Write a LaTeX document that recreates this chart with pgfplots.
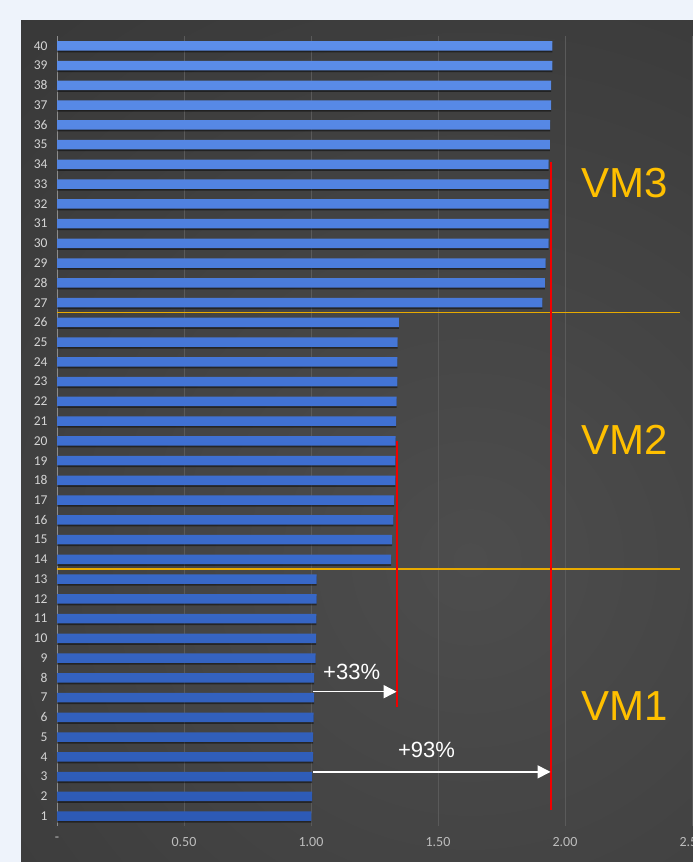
\documentclass[border=0pt]{standalone}
\usepackage{pgfplots}
\pgfplotsset{compat=1.18}
\usepackage{pgfplotstable}
\usepackage{fontspec}
\setmainfont{Carlito}
\newfontfamily\arialfont{Liberation Sans}
\usetikzlibrary{arrows.meta}
\definecolor{pagebg}{HTML}{EEF3FB}
\definecolor{barblue}{HTML}{3F70D2}
\definecolor{bartop}{HTML}{5C8EEA}
\definecolor{barbot}{HTML}{2D5AB5}
\definecolor{vmgold}{HTML}{FFC000}
\definecolor{lineorange}{HTML}{E8AA00}
\definecolor{redline}{HTML}{F00000}
\definecolor{gridgray}{HTML}{5A5A5A}
\definecolor{ticklab}{HTML}{D4D4D4}
\definecolor{xticklab}{HTML}{BDBDBD}
\definecolor{bginner}{HTML}{4D4D4D}
\definecolor{bgouter}{HTML}{1E1E1E}

\pgfplotstableread{
cat val
1 1.001
2 1.004
3 1.004
4 1.008
5 1.008
6 1.010
7 1.012
8 1.012
9 1.018
10 1.020
11 1.021
12 1.022
13 1.022
14 1.315
15 1.319
16 1.324
17 1.327
18 1.332
19 1.332
20 1.333
21 1.335
22 1.337
23 1.340
24 1.340
25 1.341
26 1.346
27 1.911
28 1.921
29 1.924
30 1.936
31 1.936
32 1.936
33 1.936
34 1.936
35 1.940
36 1.941
37 1.945
38 1.945
39 1.950
40 1.950
}\datatable

\begin{document}
\begin{tikzpicture}
\path[use as bounding box] (0,0) rectangle (693bp,862bp);
\clip (0,0) rectangle (693bp,862bp);
\fill[pagebg] (0,0) rectangle (693bp,862bp);
\begin{scope}
\clip (21bp,0) rectangle (693bp,841bp);
\shade[inner color=bginner, outer color=bgouter] (470bp,302bp) circle (1600bp);
\end{scope}
\begin{axis}[
  at={(57bp,36bp)}, anchor=south west,
  scale only axis,
  width=635bp, height=790bp,
  xmin=0, xmax=2.5,
  ymin=0.5, ymax=40.5,
  xtick={0,0.5,1,1.5,2,2.5},
  xticklabels={-,0.50,1.00,1.50,2.00,2.50},
  ytick={1,...,40},
  axis x line*=bottom,
  axis y line*=left,
  x axis line style={draw=none},
  y axis line style={draw=black!45, line width=0.8bp},
  tick style={draw=none},
  xmajorgrids,
  major grid style={draw=gridgray, line width=0.8bp},
  /pgf/number format/assume math mode=true,
  yticklabel style={font=\fontsize{13.5bp}{15bp}\selectfont, text=ticklab, xshift=-6bp},
  xticklabel style={font=\fontsize{14bp}{16bp}\selectfont, text=xticklab, yshift=-8bp},
  clip=false,
]
\addplot[draw=lineorange, line width=1.6bp] coordinates {(0,13.5) (2.453,13.5)};
\addplot[draw=lineorange, line width=1.6bp] coordinates {(0,26.5) (2.453,26.5)};
\addplot[xbar, bar width=9.3bp, bar shift=-1.8bp, draw=none, fill=black, fill opacity=0.45] table[x=val, y=cat] {\datatable};
\addplot[xbar, bar width=9.3bp, draw=none, top color=bartop, bottom color=barbot, middle color=barblue] table[x=val, y=cat] {\datatable};
\addplot[draw=none, forget plot] coordinates {(0,1) (0,2)};
\addplot[draw=redline, line width=2bp] coordinates {(1.337,6.5) (1.337,20)};
\addplot[draw=redline, line width=2bp] coordinates {(1.943,1.3) (1.943,34.1)};
\addplot[white, line width=1.5bp, -{Triangle[length=13bp,width=13bp]}] coordinates {(1.009,7.30) (1.337,7.30)};
\addplot[white, line width=1.5bp, -{Triangle[length=13bp,width=13bp]}] coordinates {(1.009,3.24) (1.943,3.24)};
\node[text=white, font=\arialfont\fontsize{22bp}{24bp}\selectfont] at (axis cs:1.160,8.28) {+33\%};
\node[text=white, font=\arialfont\fontsize{22bp}{24bp}\selectfont] at (axis cs:1.455,4.34) {+93\%};
\node[text=vmgold, font=\arialfont\fontsize{42bp}{46bp}\selectfont] at (axis cs:2.236,33.05) {VM3};
\node[text=vmgold, font=\arialfont\fontsize{42bp}{46bp}\selectfont] at (axis cs:2.236,20.05) {VM2};
\node[text=vmgold, font=\arialfont\fontsize{42bp}{46bp}\selectfont] at (axis cs:2.236,6.57) {VM1};
\end{axis}
\end{tikzpicture}
\end{document}
